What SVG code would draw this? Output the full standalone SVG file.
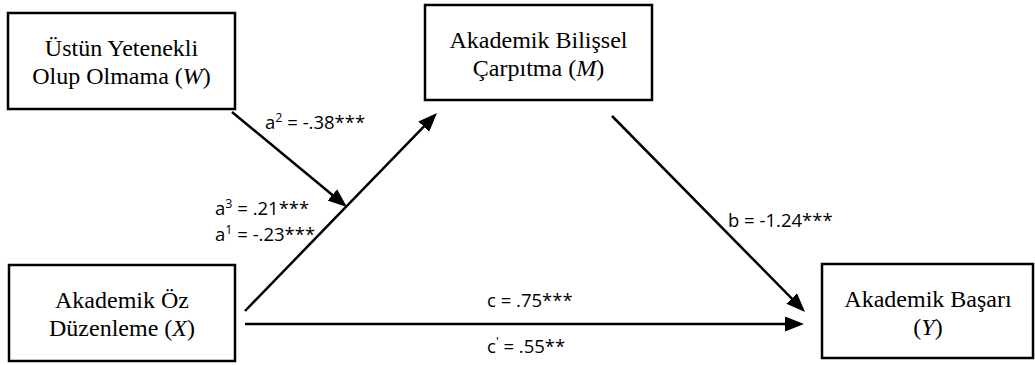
<svg xmlns="http://www.w3.org/2000/svg" width="1035" height="365" viewBox="0 0 1035 365">
<style>
.box{fill:#fff;stroke:#000;stroke-width:2.5}
.nt{font-family:"Liberation Serif","Times New Roman",serif;font-size:24px;fill:#000;text-anchor:middle}
.it{font-style:italic}
.lb{font-family:"Open Sans","Liberation Sans",sans-serif;font-size:18.5px;fill:#000}
.sp{font-size:12.5px}
.cn{stroke:#000;stroke-width:2.5;fill:none;marker-end:url(#ah)}
</style>
<defs>
<marker id="ah" viewBox="0 0 19 15" refX="15" refY="7.5" markerWidth="19" markerHeight="15" markerUnits="userSpaceOnUse" orient="auto">
<path d="M0,0 L19,7.5 L0,15 Z" fill="#000"/>
</marker>
</defs>
<rect width="1035" height="365" fill="#fff"/>
<g id="connectors">
<line class="cn" x1="232" y1="112" x2="343.9" y2="204.5"/>
<line class="cn" x1="245" y1="311" x2="434.2" y2="115.9"/>
<line class="cn" x1="612" y1="116" x2="802.2" y2="309.1"/>
<line class="cn" x1="245" y1="324" x2="800" y2="324"/>
<text class="lb" x="265" y="129">a<tspan class="sp" dy="-7">2</tspan><tspan dy="7"> = -.38***</tspan></text>
<text class="lb" x="215" y="215">a<tspan class="sp" dy="-7">3</tspan><tspan dy="7"> = .21***</tspan></text>
<text class="lb" x="215" y="241">a<tspan class="sp" dy="-7">1</tspan><tspan dy="7"> = -.23***</tspan></text>
<text class="lb" x="728" y="227">b = -1.24***</text>
<text class="lb" x="487" y="307">c = .75***</text>
<text class="lb" x="487" y="353">c<tspan class="sp" dy="-7">'</tspan><tspan dy="7"> = .55**</tspan></text>
</g>
<g id="node-W">
<rect class="box" x="8" y="13" width="227" height="96"/>
<text class="nt" x="121.5" y="56">Üstün Yetenekli</text>
<text class="nt" x="121.5" y="84">Olup Olmama (<tspan class="it">W</tspan>)</text>
</g>
<g id="node-M">
<rect class="box" x="425" y="5" width="227" height="95"/>
<text class="nt" x="538.5" y="48">Akademik Bilişsel</text>
<text class="nt" x="538.5" y="76">Çarpıtma (<tspan class="it">M</tspan>)</text>
</g>
<g id="node-X">
<rect class="box" x="9" y="265" width="226" height="96"/>
<text class="nt" x="122" y="308">Akademik Öz</text>
<text class="nt" x="122" y="336">Düzenleme (<tspan class="it">X</tspan>)</text>
</g>
<g id="node-Y">
<rect class="box" x="822" y="264" width="211" height="94"/>
<text class="nt" x="928" y="307">Akademik Başarı</text>
<text class="nt" x="928" y="335">(<tspan class="it">Y</tspan>)</text>
</g>
</svg>
